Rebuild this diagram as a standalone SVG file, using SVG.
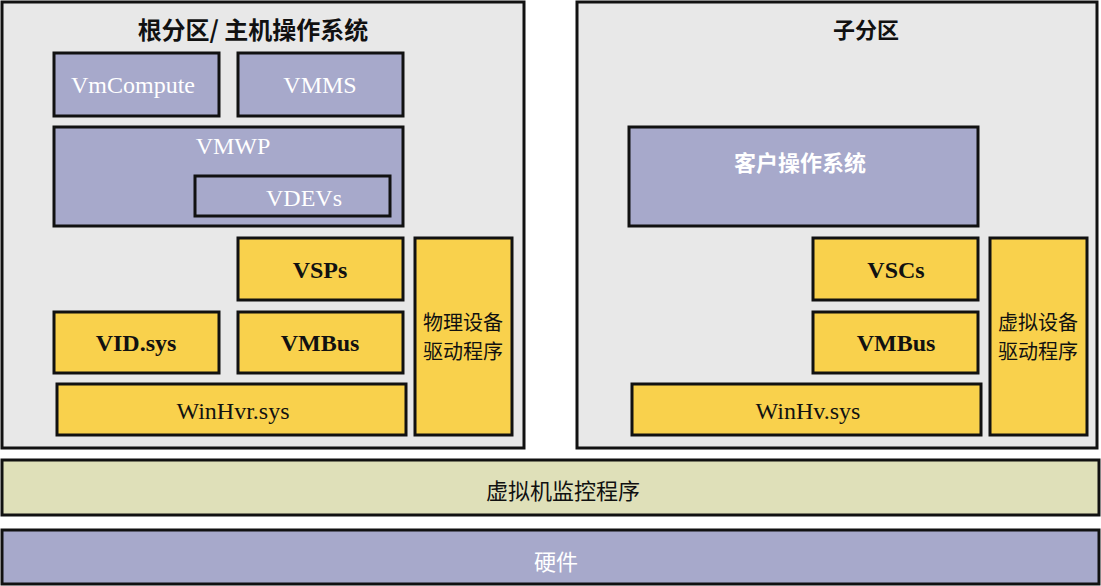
<svg xmlns="http://www.w3.org/2000/svg" width="1101" height="586" viewBox="0 0 1101 586">
<style>
.part{fill:#e8e8e8;stroke:#111;stroke-width:3}
.pur{fill:#a7a9cb;stroke:#111;stroke-width:3}
.yel{fill:#f9d14c;stroke:#111;stroke-width:3}
.hv{fill:#dfe0b9;stroke:#111;stroke-width:3}
.lat{font-family:"Liberation Serif","Times New Roman",serif;font-size:24px;text-anchor:middle;dominant-baseline:central}
.latb{font-family:"Liberation Serif","Times New Roman",serif;font-size:24px;font-weight:bold;text-anchor:middle;dominant-baseline:central;fill:#111}
.cjk{font-family:"Noto Sans CJK SC",sans-serif;font-size:22px;text-anchor:middle;dominant-baseline:central}
.drv{font-family:"Noto Sans CJK SC",sans-serif;font-size:20px;text-anchor:middle;dominant-baseline:central}
.cjkb{font-family:"Noto Sans CJK SC",sans-serif;font-size:22px;font-weight:bold;text-anchor:middle;dominant-baseline:central}
.w{fill:#fff}
.k{fill:#111}
</style>
<g id="root-partition">
<rect class="part" x="2" y="2" width="522" height="446"/>
<text class="cjkb k" x="253" y="28" style="font-size:24px">根分区/ 主机操作系统</text>
</g>
<g id="vmcompute"><rect class="pur" x="54" y="53" width="165" height="63"/><text class="lat w" x="133" y="85">VmCompute</text></g>
<g id="vmms"><rect class="pur" x="238" y="53" width="165" height="63"/><text class="lat w" x="320" y="85">VMMS</text></g>
<g id="vmwp"><rect class="pur" x="54" y="127" width="349" height="99"/><text class="lat w" x="233" y="146">VMWP</text></g>
<g id="vdevs"><rect class="pur" x="195" y="176" width="195" height="40"/><text class="lat w" x="304" y="198">VDEVs</text></g>
<g id="vsps"><rect class="yel" x="238" y="238" width="165" height="62"/><text class="latb" x="320" y="270">VSPs</text></g>
<g id="phys-drivers"><rect class="yel" x="415" y="238" width="97" height="197"/><text class="drv k" x="463" y="321">物理设备</text><text class="drv k" x="463" y="350">驱动程序</text></g>
<g id="vidsys"><rect class="yel" x="54" y="312" width="165" height="61"/><text class="latb" x="136" y="343">VID.sys</text></g>
<g id="vmbus-root"><rect class="yel" x="238" y="312" width="165" height="61"/><text class="latb" x="320" y="343">VMBus</text></g>
<g id="winhvr"><rect class="yel" x="57" y="384" width="349" height="51"/><text class="lat k" x="233" y="411">WinHvr.sys</text></g>

<g id="child-partition">
<rect class="part" x="577" y="2" width="520" height="446"/>
<text class="cjkb k" x="866" y="28">子分区</text>
</g>
<g id="guest-os"><rect class="pur" x="629" y="127" width="349" height="99"/><text class="cjkb w" x="800" y="161">客户操作系统</text></g>
<g id="vscs"><rect class="yel" x="813" y="238" width="165" height="62"/><text class="latb" x="896" y="270">VSCs</text></g>
<g id="virt-drivers"><rect class="yel" x="990" y="238" width="97" height="197"/><text class="drv k" x="1038" y="321">虚拟设备</text><text class="drv k" x="1038" y="350">驱动程序</text></g>
<g id="vmbus-child"><rect class="yel" x="813" y="312" width="165" height="61"/><text class="latb" x="896" y="343">VMBus</text></g>
<g id="winhv"><rect class="yel" x="632" y="384" width="349" height="51"/><text class="lat k" x="808" y="411">WinHv.sys</text></g>

<g id="hypervisor"><rect class="hv" x="2" y="460" width="1097" height="55"/><text class="cjk k" x="563" y="489">虚拟机监控程序</text></g>
<g id="hardware"><rect class="pur" x="2" y="530" width="1097" height="54"/><text class="cjk w" x="556" y="560">硬件</text></g>
<g id="connectors"/>
</svg>
